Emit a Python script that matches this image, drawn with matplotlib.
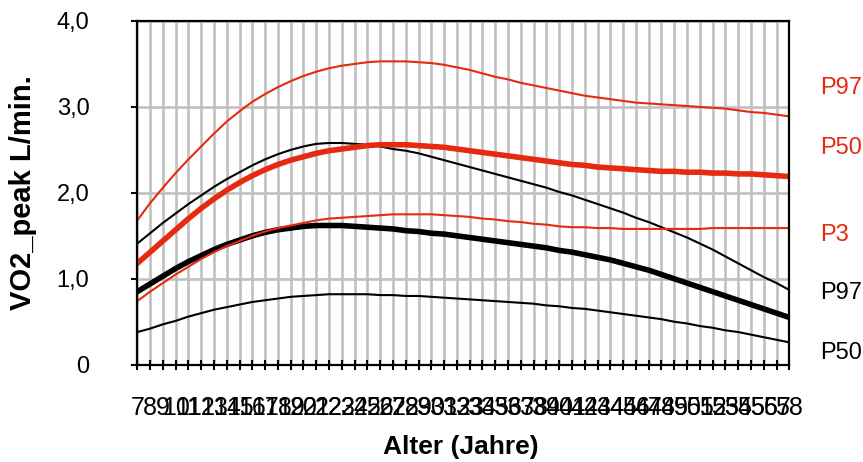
import numpy as np
import matplotlib.pyplot as plt
import matplotlib.transforms as mtransforms

plt.rcParams['font.family'] = ['Liberation Sans', 'DejaVu Sans']

# Alter in Jahren (Kategorien)
ages = list(range(7, 59))

# Perzentilen, rot
red_p97 = [1.68, 1.88, 2.06, 2.23, 2.39, 2.54, 2.69, 2.83, 2.95, 3.06,
           3.15, 3.23, 3.30, 3.36, 3.41, 3.45, 3.48, 3.50, 3.52, 3.53,
           3.53, 3.53, 3.52, 3.51, 3.49, 3.46, 3.43, 3.39, 3.35, 3.32,
           3.28, 3.25, 3.22, 3.19, 3.16, 3.13, 3.11, 3.09, 3.07, 3.05,
           3.04, 3.03, 3.02, 3.01, 3.00, 2.99, 2.98, 2.96, 2.94, 2.93,
           2.91, 2.89]
red_p50 = [1.18, 1.31, 1.44, 1.57, 1.70, 1.82, 1.93, 2.03, 2.12, 2.20,
           2.27, 2.33, 2.38, 2.42, 2.46, 2.49, 2.51, 2.53, 2.55, 2.56,
           2.56, 2.56, 2.55, 2.54, 2.53, 2.51, 2.49, 2.47, 2.45, 2.43,
           2.41, 2.39, 2.37, 2.35, 2.33, 2.32, 2.30, 2.29, 2.28, 2.27,
           2.26, 2.25, 2.25, 2.24, 2.24, 2.23, 2.23, 2.22, 2.22, 2.21,
           2.20, 2.19]
red_p3 = [0.74, 0.85, 0.95, 1.05, 1.14, 1.23, 1.31, 1.38, 1.44, 1.50,
          1.55, 1.59, 1.62, 1.65, 1.68, 1.70, 1.71, 1.72, 1.73, 1.74,
          1.75, 1.75, 1.75, 1.75, 1.74, 1.73, 1.72, 1.70, 1.69, 1.67,
          1.66, 1.64, 1.63, 1.61, 1.60, 1.60, 1.59, 1.59, 1.58, 1.58,
          1.58, 1.58, 1.58, 1.58, 1.58, 1.59, 1.59, 1.59, 1.59, 1.59,
          1.59, 1.59]

# Perzentilen, schwarz
black_p97 = [1.41, 1.53, 1.65, 1.76, 1.87, 1.97, 2.07, 2.16, 2.24, 2.32,
             2.39, 2.45, 2.50, 2.54, 2.57, 2.58, 2.58, 2.57, 2.56, 2.54,
             2.51, 2.49, 2.46, 2.42, 2.38, 2.34, 2.30, 2.26, 2.22, 2.18,
             2.14, 2.10, 2.06, 2.01, 1.97, 1.92, 1.87, 1.82, 1.77, 1.71,
             1.66, 1.60, 1.54, 1.48, 1.41, 1.34, 1.26, 1.18, 1.10, 1.02,
             0.95, 0.87]
black_p50 = [0.85, 0.94, 1.03, 1.12, 1.20, 1.27, 1.34, 1.40, 1.45, 1.50,
             1.54, 1.57, 1.59, 1.61, 1.62, 1.62, 1.62, 1.61, 1.60, 1.59,
             1.58, 1.56, 1.55, 1.53, 1.52, 1.50, 1.48, 1.46, 1.44, 1.42,
             1.40, 1.38, 1.36, 1.33, 1.31, 1.28, 1.25, 1.22, 1.18, 1.14,
             1.10, 1.05, 1.00, 0.95, 0.90, 0.85, 0.80, 0.75, 0.70, 0.65,
             0.60, 0.55]
black_p3 = [0.38, 0.42, 0.47, 0.51, 0.56, 0.60, 0.64, 0.67, 0.70, 0.73,
            0.75, 0.77, 0.79, 0.80, 0.81, 0.82, 0.82, 0.82, 0.82, 0.81,
            0.81, 0.80, 0.80, 0.79, 0.78, 0.77, 0.76, 0.75, 0.74, 0.73,
            0.72, 0.71, 0.69, 0.68, 0.66, 0.65, 0.63, 0.61, 0.59, 0.57,
            0.55, 0.53, 0.50, 0.48, 0.45, 0.43, 0.40, 0.38, 0.35, 0.32,
            0.29, 0.26]

yticks = [0, 1, 2, 3, 4]
ytick_labels = ['0', '1,0', '2,0', '3,0', '4,0']

# Beschriftung rechts neben dem Diagramm
side_labels = ['P97', 'P50', 'P3', 'P97', 'P50']
side_y = [3.22, 2.52, 1.51, 0.83, 0.14]

RED = '#e62a10'
side_colors = [RED, RED, RED, 'black', 'black']

fig = plt.figure(figsize=(8.63, 4.62), dpi=100)
ax = fig.add_axes([0.1591, 0.2106, 0.7555, 0.7440])

thin = dict(lw=1.5, solid_joinstyle='round')
thick = dict(lw=4.0, solid_joinstyle='round')
ax.plot(ages, black_p3, color='black', **thin)
ax.plot(ages, black_p97, color='black', **thin)
ax.plot(ages, black_p50, color='black', **thick)
ax.plot(ages, red_p3, color=RED, **thin)
ax.plot(ages, red_p97, color=RED, **thin)
ax.plot(ages, red_p50, color=RED, **thick)

ax.set_xlim(ages[0], ages[-1])
ax.set_ylim(0, 4)

ax.set_xticks(ages)
ax.set_xticklabels([str(a) for a in ages], fontsize=18)
ax.set_yticks(yticks)
ax.set_yticklabels(ytick_labels, fontsize=17)

ax.tick_params(axis='x', direction='inout', length=7, width=1.5, pad=19)
ax.tick_params(axis='y', direction='out', length=4.5, width=1.5, pad=30)

ax.grid(True, color='#c0c0c0', lw=1.9)
ax.set_axisbelow(True)
for s in ax.spines.values():
    s.set_color('black')
    s.set_linewidth(1.6)

fig.text(23 / 863, 1 - 192.5 / 462, 'VO2_peak L/min.', rotation=90,
         ha='center', va='center', fontsize=21, fontweight='bold')
fig.text(461 / 863, 1 - 447 / 462, 'Alter (Jahre)',
         ha='center', va='center', fontsize=19, fontweight='bold')

trans = mtransforms.blended_transform_factory(ax.transAxes, ax.transData)
for lab, yv, c in zip(side_labels, side_y, side_colors):
    ax.text(1.047, yv, lab, transform=trans, color=c, fontsize=17,
            ha='left', va='center', clip_on=False)

fig.savefig('out.png', dpi=100)
